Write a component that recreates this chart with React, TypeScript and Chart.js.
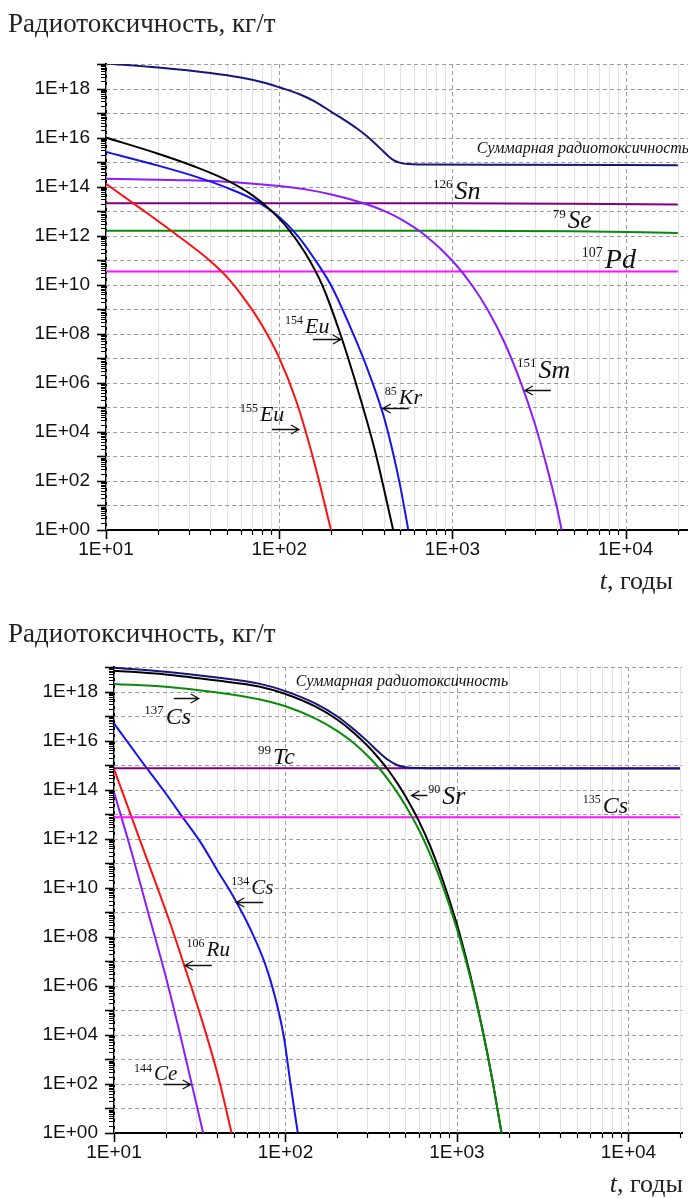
import React, { useEffect, useRef } from 'react';
import { Chart, registerables } from 'chart.js';

Chart.register(...registerables);

// ---------- axes / tick labels ----------
const X_DECADES = [10, 100, 1000, 10000];
const X_TICK_LABELS = ['1E+01', '1E+02', '1E+03', '1E+04'];
const Y_LABEL_VALUES = [1, 1e2, 1e4, 1e6, 1e8, 1e10, 1e12, 1e14, 1e16, 1e18];
const Y_TICK_LABELS = ['1E+00', '1E+02', '1E+04', '1E+06', '1E+08', '1E+10', '1E+12', '1E+14', '1E+16', '1E+18'];
const Y_EXPONENTS = [0, 1, 2, 3, 4, 5, 6, 7, 8, 9, 10, 11, 12, 13, 14, 15, 16, 17, 18, 19];
const MINOR_STEPS = [2, 3, 4, 5, 6, 7, 8, 9];

const TITLE = 'Радиотоксичность, кг/т';
const SUM_LABEL = 'Суммарная радиотоксичность';

// ---------- chart 1 (top) ----------
const sumT1 = [10, 20, 40, 60, 80, 100, 130, 160, 200, 240, 280, 320, 360, 400, 430, 460, 500, 560, 700, 2000, 20000];
const sumV1 = [1.05e19, 7.2e18, 4.3e18, 2.8e18, 1.8e18, 1.12e18, 6.0e17, 3.0e17, 1.12e17, 5.0e16, 2.4e16, 1.15e16, 5.5e15, 2.7e15, 1.66e15, 1.17e15, 9.3e14, 8.3e14, 7.9e14, 7.8e14, 7.4e14];

const eu154T = [10, 20, 31.6, 50.1, 70.8, 89.1, 112, 141, 178, 224, 282, 355, 455];
const eu154V = [1.0e16, 2.2e15, 7.1e14, 1.8e14, 4.2e13, 1.1e13, 2.0e12, 2.0e11, 8.9e9, 1.1e8, 6.3e5, 2.0e3, 1];

const kr85T = [10, 20, 31.6, 50.1, 70.8, 100, 126, 158, 200, 251, 316, 398, 447, 501, 556];
const kr85V = [2.6e15, 7.2e14, 2.8e14, 8.9e13, 3.0e13, 5.8e12, 1.1e12, 1.26e11, 8.9e9, 2.8e8, 5.6e6, 5.2e4, 2.2e3, 56, 1];

const sm151T = [10, 30, 60, 100, 150, 200, 300, 400, 500, 700, 1000, 1300, 1600, 2000, 2500, 3000, 3500, 4000, 4270];
const sm151V = [2.1e14, 1.8e14, 1.45e14, 1.05e14, 7.2e13, 4.8e13, 2.2e13, 1.05e13, 4.8e12, 1.0e12, 9.5e10, 9.3e9, 9.3e8, 4.3e7, 8.9e5, 2.0e4, 400, 9, 1];

const eu155T = [10, 15.8, 25.1, 39.8, 50.1, 63.1, 79.4, 100, 126, 158, 199];
const eu155V = [1.3e14, 1.3e13, 1.2e12, 9.5e10, 2.0e10, 2.6e9, 2.3e8, 1.05e7, 1.66e5, 710, 1];

const sn126T = [10, 1000, 5000, 20000];
const sn126V = [2.1e13, 2.1e13, 2.0e13, 1.85e13];

const se79T = [10, 1000, 5000, 20000];
const se79V = [1.6e12, 1.58e12, 1.5e12, 1.3e12];

const pd107T = [10, 20000];
const pd107V = [3.5e10, 3.5e10];

// ---------- chart 2 (bottom) ----------
const sumT2 = [10, 20, 40, 70, 100, 150, 200, 250, 300, 350, 400, 450, 500, 600, 700, 20000];
const sumV2 = [9.4e18, 6.4e18, 3.7e18, 2.1e18, 1.04e18, 3.2e17, 9.8e16, 2.9e16, 9.5e15, 3.4e15, 1.57e15, 9.9e14, 8.2e14, 7.6e14, 7.5e14, 7.3e14];

const sr90T = [10, 20, 40, 70, 100, 150, 200, 250, 300, 350, 400, 450, 500, 600, 700, 800, 1000, 1200, 1400, 1600, 1820];
const sr90V = [7.1e18, 5.0e18, 2.8e18, 1.6e18, 7.9e17, 2.4e17, 7.2e16, 2.1e16, 6.3e15, 1.9e15, 5.9e14, 1.8e14, 5.5e13, 5.2e12, 4.8e11, 4.0e10, 3.2e8, 2.5e6, 2.1e4, 186, 1];

const cs137T = [10, 20, 40, 70, 100, 150, 200, 250, 300, 350, 400, 450, 500, 600, 700, 800, 1000, 1200, 1400, 1600, 1820];
const cs137V = [2.04e18, 1.55e18, 9.1e17, 4.8e17, 2.5e17, 7.9e16, 2.5e16, 7.9e15, 2.45e15, 7.8e14, 2.4e14, 7.4e13, 2.3e13, 2.3e12, 2.2e11, 2.2e10, 2.1e8, 2.0e6, 1.9e4, 182, 1];

const tc99T = [10, 20000];
const tc99V = [7.4e14, 7.4e14];

const cs135T = [10, 20000];
const cs135V = [7.4e12, 7.4e12];

const cs134T = [10, 14, 20, 25, 32, 40, 50, 63, 76, 87, 98, 107, 118];
const cs134V = [5.0e16, 2.0e15, 7.1e13, 7.9e12, 7.1e11, 5.2e10, 4.0e9, 1.8e8, 8.0e6, 3.5e5, 7.9e3, 100, 1];

const ru106T = [10, 14, 21, 25.5, 32.6, 40.6, 48.5];
const ru106V = [6.9e14, 1.1e12, 4.6e8, 7.9e6, 3.9e4, 190, 1];

const ce144T = [10, 12.6, 15.8, 20, 25.1, 33.1];
const ce144V = [7.8e13, 3.2e11, 1.0e9, 2.5e6, 4.0e3, 1];

// ---------- annotations ----------
const labels1 = [
  { t: 1383, v: 2.45e15, sup: '', sym: SUM_LABEL, supSize: 0, size: 16 },
  { t: 771, v: 3.2e13, sup: '126', sym: 'Sn', supSize: 13, size: 26 },
  { t: 3793, v: 2.1e12, sup: '79', sym: 'Se', supSize: 13, size: 25 },
  { t: 5585, v: 4.9e10, sup: '107', sym: 'Pd', supSize: 14, size: 28 },
  { t: 108, v: 1.1e8, sup: '154', sym: 'Eu', supSize: 12, size: 22 },
  { t: 59.3, v: 2.8e4, sup: '155', sym: 'Eu', supSize: 12, size: 22 },
  { t: 407, v: 1.4e5, sup: '85', sym: 'Kr', supSize: 12, size: 22 },
  { t: 2355, v: 1.6e6, sup: '151', sym: 'Sm', supSize: 13, size: 26 },
];
const arrows1 = [
  { t: 227, v: 6.3e7, dir: 1, len: 28 },
  { t: 130, v: 1.3e4, dir: 1, len: 27 },
  { t: 396, v: 9.5e4, dir: -1, len: 26 },
  { t: 2618, v: 5.2e5, dir: -1, len: 26 },
];

const labels2 = [
  { t: 115, v: 1.7e18, sup: '', sym: SUM_LABEL, supSize: 0, size: 16 },
  { t: 15, v: 4.9e16, sup: '137', sym: 'Cs', supSize: 13, size: 24 },
  { t: 69.2, v: 1.15e15, sup: '99', sym: 'Tc', supSize: 13, size: 24 },
  { t: 681, v: 2.7e13, sup: '90', sym: 'Sr', supSize: 12, size: 26 },
  { t: 5420, v: 1.15e13, sup: '135', sym: 'Cs', supSize: 12, size: 24 },
  { t: 48.3, v: 5.8e9, sup: '134', sym: 'Cs', supSize: 12, size: 21 },
  { t: 26.5, v: 1.7e7, sup: '106', sym: 'Ru', supSize: 12, size: 21 },
  { t: 13.1, v: 140, sup: '144', sym: 'Ce', supSize: 12, size: 21 },
];
const arrows2 = [
  { t: 31.2, v: 5.6e17, dir: 1, len: 25 },
  { t: 543, v: 6.3e13, dir: -1, len: 16 },
  { t: 51.6, v: 2.7e9, dir: -1, len: 27 },
  { t: 25.9, v: 7.4e6, dir: -1, len: 27 },
  { t: 28, v: 96, dir: 1, len: 27 },
];

// ---------- colours ----------
const NAVY = '#16167a';
const BLACK = '#000000';
const BLUE = '#1414f0';
const VIOLET = '#8a1cff';
const RED = '#ff1010';
const PURPLE = '#800080';
const GREEN = '#0a8a0a';
const MAGENTA = '#ff10ff';

type Tick = { v: number; major: boolean };

function buildXTicks(max: number): Tick[] {
  const out: Tick[] = [];
  for (const d of X_DECADES) {
    out.push({ v: d, major: true });
    for (const m of MINOR_STEPS) {
      if (d * m <= max) out.push({ v: d * m, major: false });
    }
  }
  return out;
}

function buildYTicks(): Tick[] {
  const out: Tick[] = [];
  for (const e of Y_EXPONENTS) {
    const d = Math.pow(10, e);
    out.push({ v: d, major: true });
    if (e < 19) for (const m of MINOR_STEPS) out.push({ v: d * m, major: false });
  }
  return out;
}

function findLabel(value: number, vals: number[], labels: string[]) {
  const i = vals.findIndex((l) => Math.abs(l - value) / l < 1e-6);
  return i >= 0 ? labels[i] : '';
}

const gridPlugin = {
  id: 'logGrid',
  beforeDatasetsDraw(chart: any, _a: any, opts: any) {
    const { ctx, chartArea: a, scales } = chart;
    const x = scales.x, y = scales.y;
    ctx.save();
    ctx.beginPath();
    ctx.rect(a.left, a.top - 1, a.right - a.left, a.bottom - a.top + 1);
    ctx.clip();
    ctx.lineWidth = 1;
    ctx.strokeStyle = '#e2e2e2';
    ctx.setLineDash([]);
    for (const t of opts.xTicks as Tick[]) {
      if (t.major) continue;
      const px = Math.round(x.getPixelForValue(t.v)) + 0.5;
      ctx.beginPath(); ctx.moveTo(px, a.top); ctx.lineTo(px, a.bottom); ctx.stroke();
    }
    ctx.strokeStyle = '#9c9c9c';
    ctx.setLineDash([4, 3]);
    for (const t of opts.xTicks as Tick[]) {
      if (!t.major) continue;
      const px = Math.round(x.getPixelForValue(t.v)) + 0.5;
      ctx.beginPath(); ctx.moveTo(px, a.top); ctx.lineTo(px, a.bottom); ctx.stroke();
    }
    for (const t of opts.yTicks as Tick[]) {
      if (!t.major) continue;
      const py = Math.round(y.getPixelForValue(t.v)) + 0.5;
      ctx.beginPath(); ctx.moveTo(a.left, py); ctx.lineTo(a.right, py); ctx.stroke();
    }
    ctx.restore();
  },
  afterDraw(chart: any, _a: any, opts: any) {
    const { ctx, chartArea: a, scales } = chart;
    const x = scales.x, y = scales.y;
    ctx.save();
    ctx.strokeStyle = '#000';
    for (const t of opts.yTicks as Tick[]) {
      const py = Math.round(y.getPixelForValue(t.v)) + 0.5;
      const len = t.major ? 9 : 5;
      ctx.lineWidth = t.major ? 1.6 : 1;
      ctx.beginPath(); ctx.moveTo(a.left - len, py); ctx.lineTo(a.left, py); ctx.stroke();
    }
    for (const t of opts.xTicks as Tick[]) {
      const px = Math.round(x.getPixelForValue(t.v)) + 0.5;
      const len = t.major ? 9 : 5;
      ctx.lineWidth = t.major ? 1.6 : 1.2;
      ctx.beginPath(); ctx.moveTo(px, a.bottom); ctx.lineTo(px, a.bottom + len); ctx.stroke();
    }
    ctx.restore();
  },
};

const labelPlugin = {
  id: 'isoLabels',
  afterDatasetsDraw(chart: any, _a: any, opts: any) {
    const { ctx, scales } = chart;
    const x = scales.x, y = scales.y;
    ctx.save();
    ctx.fillStyle = '#111';
    ctx.strokeStyle = '#111';
    ctx.textAlign = 'left';
    ctx.textBaseline = 'alphabetic';
    for (const l of opts.labels || []) {
      const px = x.getPixelForValue(l.t);
      const py = y.getPixelForValue(l.v);
      let cx = px;
      if (l.sup) {
        ctx.font = `${l.supSize}px "Liberation Serif"`;
        ctx.fillText(l.sup, cx, py - l.size * 0.4);
        cx += ctx.measureText(l.sup).width + 2;
      }
      ctx.font = `italic ${l.size}px "Liberation Serif"`;
      ctx.fillText(l.sym, cx, py);
    }
    ctx.lineWidth = 1.3;
    for (const ar of opts.arrows || []) {
      const px = x.getPixelForValue(ar.t);
      const py = Math.round(y.getPixelForValue(ar.v)) + 0.5;
      const tail = px - ar.dir * ar.len;
      ctx.beginPath();
      ctx.moveTo(tail, py); ctx.lineTo(px, py);
      ctx.moveTo(px - ar.dir * 8, py - 4.5); ctx.lineTo(px, py); ctx.lineTo(px - ar.dir * 8, py + 4.5);
      ctx.stroke();
    }
    ctx.restore();
  },
};

function ds(label: string, ts: number[], vs: number[], color: string) {
  return {
    label,
    data: ts.map((t, i) => ({ x: t, y: vs[i] })),
    borderColor: color,
    backgroundColor: color,
    borderWidth: 2,
    pointRadius: 0,
    fill: false,
    cubicInterpolationMode: 'monotone',
  };
}

type Cfg = {
  datasets: any[];
  xMax: number;
  yWidth: number;
  padTop: number;
  xHeight: number;
  labels: any[];
  arrows: any[];
};

function buildConfig(c: Cfg): any {
  const xTicks = buildXTicks(c.xMax);
  const yTicks = buildYTicks();
  return {
    type: 'line',
    data: { datasets: c.datasets },
    plugins: [gridPlugin, labelPlugin],
    options: {
      animation: false,
      responsive: false,
      devicePixelRatio: 1,
      layout: { padding: { top: c.padTop, right: 0, left: 0, bottom: 0 } },
      plugins: {
        legend: { display: false },
        tooltip: { enabled: false },
        logGrid: { xTicks, yTicks },
        isoLabels: { labels: c.labels, arrows: c.arrows },
      },
      scales: {
        x: {
          type: 'logarithmic',
          min: 10,
          max: c.xMax,
          afterBuildTicks: (s: any) => { s.ticks = xTicks.map((t) => ({ value: t.v })); },
          afterFit: (s: any) => { s.height = c.xHeight; },
          grid: { display: true, drawOnChartArea: false, drawTicks: false },
          border: { display: true, color: '#000', width: 2 },
          ticks: {
            autoSkip: false,
            maxRotation: 0,
            padding: 8,
            color: '#111',
            font: { family: 'Liberation Sans', size: 19 },
            callback: (v: any) => findLabel(Number(v), X_DECADES, X_TICK_LABELS),
          },
        },
        y: {
          type: 'logarithmic',
          min: 1,
          max: 1e19,
          afterBuildTicks: (s: any) => { s.ticks = yTicks.map((t) => ({ value: t.v })); },
          afterFit: (s: any) => { s.width = c.yWidth; },
          grid: { display: true, drawOnChartArea: false, drawTicks: false },
          border: { display: true, color: '#000', width: 2 },
          ticks: {
            autoSkip: false,
            padding: 16,
            color: '#111',
            font: { family: 'Liberation Sans', size: 19 },
            callback: (v: any) => findLabel(Number(v), Y_LABEL_VALUES, Y_TICK_LABELS),
          },
        },
      },
    },
  };
}

function LogChart({ cfg, top, height }: { cfg: Cfg; top: number; height: number }) {
  const ref = useRef<HTMLCanvasElement | null>(null);
  useEffect(() => {
    if (!ref.current) return;
    const chart = new Chart(ref.current, buildConfig(cfg));
    return () => chart.destroy();
  }, []);
  return (
    <canvas
      ref={ref}
      width={688}
      height={height}
      style={{ position: 'absolute', left: 0, top, width: 688, height }}
    />
  );
}

const cfg1: Cfg = {
  datasets: [
    ds('Суммарная', sumT1, sumV1, NAVY),
    ds('154Eu', eu154T, eu154V, BLACK),
    ds('85Kr', kr85T, kr85V, BLUE),
    ds('151Sm', sm151T, sm151V, VIOLET),
    ds('155Eu', eu155T, eu155V, RED),
    ds('126Sn', sn126T, sn126V, PURPLE),
    ds('79Se', se79T, se79V, GREEN),
    ds('107Pd', pd107T, pd107V, MAGENTA),
  ],
  xMax: 2.29e4,
  yWidth: 106,
  padTop: 64,
  xHeight: 70,
  labels: labels1,
  arrows: arrows1,
};

const cfg2: Cfg = {
  datasets: [
    ds('137Cs', cs137T, cs137V, GREEN),
    ds('90Sr', sr90T, sr90V, BLACK),
    ds('Суммарная', sumT2, sumV2, NAVY),
    ds('99Tc', tc99T, tc99V, PURPLE),
    ds('135Cs', cs135T, cs135V, MAGENTA),
    ds('134Cs', cs134T, cs134V, BLUE),
    ds('106Ru', ru106T, ru106V, RED),
    ds('144Ce', ce144T, ce144V, VIOLET),
  ],
  xMax: 2.07e4,
  yWidth: 114,
  padTop: 67,
  xHeight: 66,
  labels: labels2,
  arrows: arrows2,
};

const textStyle: React.CSSProperties = {
  position: 'absolute',
  fontFamily: '"Liberation Serif", serif',
  fontSize: 27,
  lineHeight: '27px',
  color: '#222',
  whiteSpace: 'nowrap',
};

export default function App() {
  return (
    <div style={{ position: 'absolute', left: 0, top: 0, width: 688, height: 1199, background: '#fff', overflow: 'hidden' }}>
      <LogChart cfg={cfg1} top={0} height={600} />
      <LogChart cfg={cfg2} top={600} height={599} />
      <div style={{ ...textStyle, left: 8, top: 10 }}>{TITLE}</div>
      <div style={{ ...textStyle, left: 8, top: 620 }}>{TITLE}</div>
      <div style={{ ...textStyle, fontSize: 26, lineHeight: '26px', right: 15, top: 568 }}><i>t</i>, годы</div>
      <div style={{ ...textStyle, fontSize: 26, lineHeight: '26px', right: 5, top: 1171 }}><i>t</i>, годы</div>
    </div>
  );
}
